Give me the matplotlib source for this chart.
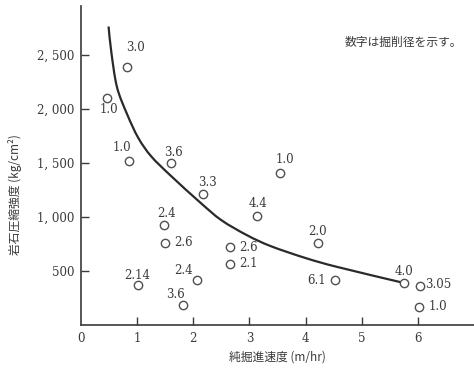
import matplotlib.pyplot as plt
from matplotlib.path import Path
from matplotlib.patches import PathPatch

# 純掘進速度 (m/hr) と 岩石圧縮強度 (kg/cm2)
speed = [0.82, 0.47, 0.86, 1.61, 2.18, 1.48, 1.50, 1.02, 2.07, 1.82,
         2.65, 2.65, 3.13, 3.54, 4.22, 4.52, 5.75, 6.03, 6.02]
strength = [2390, 2100, 1520, 1500, 1213, 925, 760, 370, 415, 185,
            720, 565, 1010, 1407, 760, 415, 390, 360, 170]
diameter = ["3.0", "1.0", "1.0", "3.6", "3.3", "2.4", "2.6", "2.14", "2.4", "3.6",
            "2.6", "2.1", "4.4", "1.0", "2.0", "6.1", "4.0", "3.05", "1.0"]

# 手描きの傾向曲線
curve_x = [0.49, 0.54, 0.64, 0.82, 1.02, 1.25, 1.6, 2.13, 2.5, 2.96, 3.38, 4.0, 4.57, 5.75]
curve_y = [2760, 2520, 2200, 1950, 1730, 1560, 1380, 1130, 970, 830, 730, 620, 537, 390]

xticks = [0, 1, 2, 3, 4, 5, 6]
yticks = [500, 1000, 1500, 2000, 2500]
ytick_labels = ["500", "1, 000", "1, 500", "2, 000", "2, 500"]

# ラベル位置 (pixel offset)
offsets = [(8, 19), (1, -12), (-7, 13), (2, 10), (4, 11), (2, 12), (18, 0), (-1, 10),
           (-14, 10), (-8, 11), (19, 0), (19, 0), (1, 12), (5, 13), (0, 11),
           (-18, 0), (0, 11), (19, 2), (19, 0)]

ink = "#3a3a3a"
jp = ["Noto Sans CJK JP", "DejaVu Sans"]
num_font = "DejaVu Serif"


# 読み取り点を滑らかに結ぶ (Catmull-Rom -> ベジェ)
def smooth_path(xs, ys):
    pts = list(zip(xs, ys))
    verts = [pts[0]]
    codes = [Path.MOVETO]
    n = len(pts)
    for i in range(n - 1):
        p0 = pts[max(i - 1, 0)]
        p1 = pts[i]
        p2 = pts[i + 1]
        p3 = pts[min(i + 2, n - 1)]
        c1 = (p1[0] + (p2[0] - p0[0]) / 6, p1[1] + (p2[1] - p0[1]) / 6)
        c2 = (p2[0] - (p3[0] - p1[0]) / 6, p2[1] - (p3[1] - p1[1]) / 6)
        verts += [c1, c2, p2]
        codes += [Path.CURVE4] * 3
    return Path(verts, codes)


fig = plt.figure(figsize=(4.74, 3.72), dpi=100)
ax = fig.add_axes([0.171, 0.126, 0.829, 0.858])

ax.add_patch(PathPatch(smooth_path(curve_x, curve_y), fill=False,
                       edgecolor="#2a2a2a", lw=1.6, zorder=2))
ax.plot(speed, strength, "o", ms=6, mfc="white", mec="#505050", mew=1.0, zorder=3)

for x, y, t, (dx, dy) in zip(speed, strength, diameter, offsets):
    ax.annotate(t, (x, y), xytext=(dx, dy), textcoords="offset pixels",
                ha="center", va="center", fontsize=8.5, color=ink, family=num_font)

ax.set_xlim(0, 7.0)
ax.set_ylim(0, 2950)
ax.set_xticks(xticks)
ax.set_yticks(yticks)
ax.set_yticklabels(ytick_labels)
ax.tick_params(direction="in", length=6, width=1, colors=ink, labelsize=8.5, pad=5)
for lab in ax.get_xticklabels() + ax.get_yticklabels():
    lab.set_family(num_font)
ax.xaxis.get_major_ticks()[0].tick1line.set_visible(False)

for s in ["top", "right"]:
    ax.spines[s].set_visible(False)
for s in ["left", "bottom"]:
    ax.spines[s].set_color(ink)
    ax.spines[s].set_linewidth(1.2)

ax.set_xlabel("純掘進速度 (m/hr)", family=jp, fontsize=8.5, color=ink, labelpad=4)
ax.set_ylabel("岩石圧縮強度 (kg/cm²)", family=jp, fontsize=8.5, color=ink)
ax.yaxis.set_label_coords(-0.15, 0.41)

ax.text(0.97, 0.885, "数字は掘削径を示す。", transform=ax.transAxes, ha="right", va="center",
        family=jp, fontsize=8.5, color=ink)

fig.savefig("out.png", dpi=100)
